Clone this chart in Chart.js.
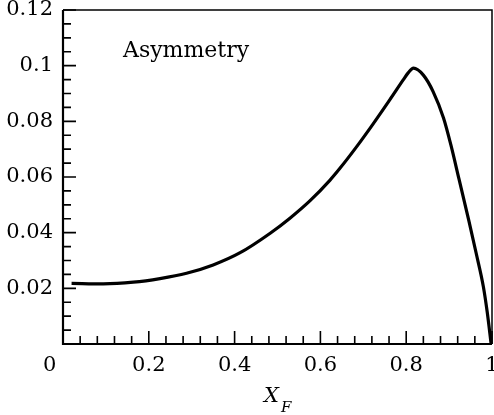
<!DOCTYPE html>
<html>
<head>
<meta charset="utf-8">
<script src="https://cdn.jsdelivr.net/npm/chart.js@4.4.1/dist/chart.umd.min.js"></script>
<style>
  html, body { margin: 0; padding: 0; background: #fff; }
  #chart { display: block; }
</style>
</head>
<body>
<canvas id="chart" width="494" height="415"></canvas>
<script>
// values
const xf = [0.02, 0.094, 0.164, 0.226, 0.288, 0.35, 0.413, 0.483, 0.529, 0.576, 0.622, 0.646, 0.685, 0.723, 0.762, 0.793, 0.805, 0.817, 0.84, 0.863, 0.887, 0.904, 0.923, 0.946, 0.963, 0.98, 0.989, 0.998];
const asymmetry = [0.0218, 0.0216, 0.0222, 0.0235, 0.0254, 0.0284, 0.0328, 0.0398, 0.0452, 0.0515, 0.0588, 0.0632, 0.071, 0.0791, 0.0878, 0.0949, 0.0975, 0.0991, 0.0966, 0.0906, 0.0812, 0.0716, 0.0593, 0.0443, 0.0327, 0.0205, 0.0113, 0];

const xTicks = [0, 0.2, 0.4, 0.6, 0.8, 1];
const xTickLabels = ['0', '0.2', '0.4', '0.6', '0.8', '1'];
const yTicks = [0, 0.02, 0.04, 0.06, 0.08, 0.1, 0.12];
const yTickLabels = ['', '0.02', '0.04', '0.06', '0.08', '0.1', '0.12'];
const xMinorStep = 0.04;
const yMinorStep = 0.005;

const tickFont = { family: 'DejaVu Serif', size: 21 };

// frame, inward ticks and the texts
const framePlugin = {
  id: 'frame',
  afterDraw(chart) {
    const { ctx, chartArea: a, scales: { x, y } } = chart;
    ctx.save();
    ctx.strokeStyle = '#000';
    ctx.lineWidth = 1.6;
    ctx.beginPath();
    for (let i = 0; i <= 25; i++) {
      const px = x.getPixelForValue(i * xMinorStep);
      const len = i % 5 === 0 ? 13 : 8;
      ctx.moveTo(px, a.bottom);
      ctx.lineTo(px, a.bottom - len);
    }
    for (let i = 0; i <= 24; i++) {
      const py = y.getPixelForValue(i * yMinorStep);
      const len = i % 4 === 0 ? 13 : 8;
      ctx.moveTo(a.left, py);
      ctx.lineTo(a.left + len, py);
    }
    ctx.stroke();

    // left + bottom heavier, top + right lighter
    ctx.lineWidth = 2.2;
    ctx.beginPath();
    ctx.moveTo(a.left, a.top);
    ctx.lineTo(a.left, a.bottom);
    ctx.lineTo(a.right, a.bottom);
    ctx.stroke();
    ctx.lineWidth = 1.5;
    ctx.beginPath();
    ctx.moveTo(a.left, a.top);
    ctx.lineTo(a.right, a.top);
    ctx.lineTo(a.right, a.bottom);
    ctx.stroke();

    ctx.fillStyle = '#000';
    ctx.textBaseline = 'alphabetic';
    ctx.textAlign = 'left';
    ctx.font = '22px "DejaVu Serif"';
    ctx.fillText('Asymmetry', 123, 57);

    ctx.font = 'italic 21px "DejaVu Serif"';
    ctx.fillText('X', 264, 402);
    ctx.font = 'italic 15px "DejaVu Serif"';
    ctx.fillText('F', 281, 412);
    ctx.restore();
  }
};

const ctx = document.getElementById('chart').getContext('2d');
new Chart(ctx, {
  type: 'line',
  data: {
    datasets: [{
      label: 'Asymmetry',
      data: xf.map((v, i) => ({ x: v, y: asymmetry[i] })),
      borderColor: '#000',
      borderWidth: 3.2,
      pointRadius: 0,
      fill: false,
      cubicInterpolationMode: 'monotone'
    }]
  },
  options: {
    responsive: false,
    animation: false,
    layout: { padding: { top: 10, right: 2, left: 0, bottom: 0 } },
    plugins: { legend: { display: false }, tooltip: { enabled: false } },
    scales: {
      x: {
        type: 'linear',
        min: 0,
        max: 1,
        grid: { display: false, drawTicks: false },
        border: { display: false },
        afterBuildTicks: s => { s.ticks = xTicks.map(v => ({ value: v })); },
        afterFit: s => { s.height = 71; s.paddingLeft = 0; s.paddingRight = 0; },
        ticks: {
          font: tickFont,
          color: '#000',
          padding: 9,
          maxRotation: 0,
          autoSkip: false,
          // the 0 sits left of the corner in the original, pad it with spaces
          callback: (v, i) => i === 0 ? xTickLabels[i] + '    ' : xTickLabels[i]
        }
      },
      y: {
        min: 0,
        max: 0.12,
        grid: { display: false, drawTicks: false },
        border: { display: false },
        afterBuildTicks: s => { s.ticks = yTicks.map(v => ({ value: v })); },
        afterFit: s => { s.width = 63; s.paddingTop = 0; s.paddingBottom = 0; },
        ticks: {
          font: tickFont,
          color: '#000',
          padding: 10,
          autoSkip: false,
          callback: (v, i) => yTickLabels[i]
        }
      }
    }
  },
  plugins: [framePlugin]
});
</script>
</body>
</html>
